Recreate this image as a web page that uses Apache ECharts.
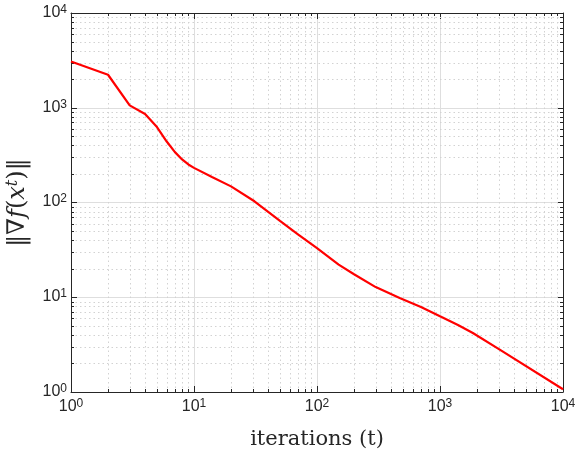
<!DOCTYPE html>
<html><head><meta charset="utf-8">
<script src="https://cdn.jsdelivr.net/npm/echarts@6/dist/echarts.min.js"></script>
<style>html,body{margin:0;padding:0;background:#fff}#c{width:577px;height:450px}</style>
</head><body><div id="c"></div>
<script>
// ---- data ----
const iterations = [1, 2, 3, 4, 5, 6, 7, 8, 9, 10, 14, 20, 31, 50, 70, 100, 150, 200, 300, 470, 700, 1000, 1400, 1850, 3060, 10000];
const gradNorm   = [3080, 2230, 1060, 860, 625, 440, 340, 285, 252, 232, 186, 148, 103, 64, 46, 33, 22.1, 17.5, 12.8, 9.8, 7.9, 6.3, 5.1, 4.2, 2.8, 1.07];
const axisMin = 1, axisMax = 10000;
const decades = [1, 10, 100, 1000];
const minorMultipliers = [2, 3, 4, 5, 6, 7, 8, 9];
const xAxisTitle = 'iterations (t)';

const minorValues = [];
decades.forEach(d => minorMultipliers.forEach(m => minorValues.push(d * m)));

const TXT = '#262626';
const SANS = 'Liberation Sans';
const SERIF = 'DejaVu Serif';

const tickRich = {
  b: { fontFamily: SANS, fontSize: 16, lineHeight: 15, color: TXT, verticalAlign: 'bottom' },
  s: { fontFamily: SANS, fontSize: 12, lineHeight: 11, color: TXT, padding: [0, 0, 7, 0] }
};
function powLabel(v) {
  const e = Math.round(Math.log10(v));
  return '{b|10}{s|' + e + '}';
}

const chart = echarts.init(document.getElementById('c'), null, { renderer: 'canvas' });

const logAxisBase = { type: 'log', logBase: 10, min: axisMin, max: axisMax, splitNumber: 4 };

const option = {
  animation: false,
  backgroundColor: '#ffffff',
  grid: { left: 71, right: 14, top: 13, bottom: 58, containLabel: false, outerBoundsMode: 'none' },
  xAxis: [
    Object.assign({}, logAxisBase, {
      position: 'bottom',
      name: xAxisTitle,
      nameLocation: 'middle',
      nameGap: 37,
      nameTextStyle: { fontFamily: SERIF, fontSize: 21, color: TXT, lineHeight: 22 },
      axisLine: { show: true, lineStyle: { color: TXT, width: 1 } },
      axisTick: { show: true, inside: true, length: 6, lineStyle: { color: TXT } },
      axisLabel: { show: true, margin: 8, fontSize: 16, fontFamily: SANS, formatter: powLabel, rich: tickRich },
      splitLine: { show: true, lineStyle: { color: '#dedede', width: 1 } },
      minorTick: { show: false }, minorSplitLine: { show: false }
    }),
    Object.assign({}, logAxisBase, {
      position: 'top',
      axisLine: { show: true, onZero: false, lineStyle: { color: TXT, width: 1 } },
      axisTick: { show: true, inside: true, length: 6, lineStyle: { color: TXT } },
      axisLabel: { show: false },
      splitLine: { show: false }
    })
  ],
  yAxis: [
    Object.assign({}, logAxisBase, {
      position: 'left',
      name: '{n|\u2016\u2207}{i|f}{n|(}{i|x}{s|t}{n|)\u2016}',
      nameLocation: 'middle',
      nameRotate: 90,
      nameGap: 37,
      nameTextStyle: {
        rich: {
          n: { fontFamily: SERIF, fontSize: 24, lineHeight: 24, color: TXT, verticalAlign: 'bottom' },
          i: { fontFamily: SERIF, fontSize: 24, lineHeight: 24, color: TXT, fontStyle: 'italic', verticalAlign: 'bottom' },
          s: { fontFamily: SERIF, fontSize: 16, lineHeight: 16, color: TXT, fontStyle: 'italic', padding: [0, 0, 11, 0] }
        }
      },
      axisLine: { show: true, onZero: false, lineStyle: { color: TXT, width: 1 } },
      axisTick: { show: true, inside: true, length: 6, lineStyle: { color: TXT } },
      axisLabel: { show: true, margin: 4, fontSize: 16, fontFamily: SANS, formatter: powLabel, rich: tickRich },
      splitLine: { show: true, lineStyle: { color: '#dedede', width: 1 } },
      minorTick: { show: false }, minorSplitLine: { show: false }
    }),
    Object.assign({}, logAxisBase, {
      position: 'right',
      axisLine: { show: true, onZero: false, lineStyle: { color: TXT, width: 1 } },
      axisTick: { show: true, inside: true, length: 6, lineStyle: { color: TXT } },
      axisLabel: { show: false },
      splitLine: { show: false }
    })
  ],
  series: [
    {
      type: 'custom',
      xAxisIndex: 0, yAxisIndex: 0,
      silent: true,
      z: 1,
      clip: false,
      data: [[axisMin, axisMin]],
      renderItem: function (params, api) {
        const cs = params.coordSys;
        const left = cs.x, top = cs.y, right = cs.x + cs.width, bottom = cs.y + cs.height;
        const children = [];
        const gridStyle = { stroke: '#d2d2d2', lineWidth: 1, lineDash: [1.5, 3] };
        const tickStyle = { stroke: TXT, lineWidth: 1 };
        minorValues.forEach(v => {
          const px = Math.round(api.coord([v, axisMin])[0]) + 0.5;
          const py = Math.round(api.coord([axisMin, v])[1]) + 0.5;
          children.push({ type: 'line', shape: { x1: px, y1: top, x2: px, y2: bottom }, style: gridStyle });
          children.push({ type: 'line', shape: { x1: left, y1: py, x2: right, y2: py }, style: gridStyle });
          children.push({ type: 'line', shape: { x1: px, y1: bottom, x2: px, y2: bottom - 3 }, style: tickStyle });
          children.push({ type: 'line', shape: { x1: px, y1: top, x2: px, y2: top + 3 }, style: tickStyle });
          children.push({ type: 'line', shape: { x1: left, y1: py, x2: left + 3, y2: py }, style: tickStyle });
          children.push({ type: 'line', shape: { x1: right, y1: py, x2: right - 3, y2: py }, style: tickStyle });
        });
        return { type: 'group', children: children };
      }
    },
    {
      type: 'line',
      xAxisIndex: 0, yAxisIndex: 0,
      z: 3,
      showSymbol: false,
      symbol: 'none',
      smooth: false,
      data: iterations.map((x, i) => [x, gradNorm[i]]),
      lineStyle: { color: '#ff0000', width: 2.2 }
    }
  ]
};
chart.setOption(option);
</script>
</body></html>
